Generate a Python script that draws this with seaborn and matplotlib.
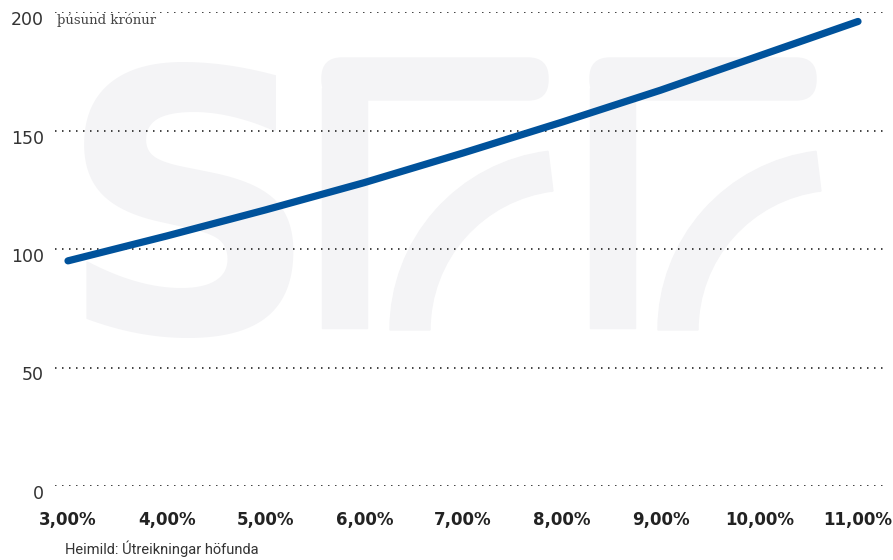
import numpy as np
import pandas as pd
import matplotlib
matplotlib.use("Agg")
import matplotlib.pyplot as plt
import matplotlib.transforms as mtransforms
from matplotlib.patches import Rectangle, FancyBboxPatch, Wedge
import seaborn as sns

# ── Data ──────────────────────────────────────────────────────────────────────
rates = [3, 4, 5, 6, 7, 8, 9, 10, 11]                       # vextir, %
values = [95, 105.5, 116.5, 128, 140.5, 153.5, 167, 181.5, 196]  # þúsund krónur
rate_labels = ["3,00%", "4,00%", "5,00%", "6,00%", "7,00%",
               "8,00%", "9,00%", "10,00%", "11,00%"]
y_ticks = [0, 50, 100, 150, 200]

df = pd.DataFrame({"rate": rates, "value": values})

# ── Style ─────────────────────────────────────────────────────────────────────
sns.set_theme(style="white")
plt.rcParams["font.family"] = ["DejaVu Sans"]

W, H = 893, 560
fig = plt.figure(figsize=(W / 100, H / 100), dpi=100)
fig.patch.set_facecolor("white")

# ── Watermark (light SFF logo), figure pixel coords from top-left ─────────────
WM = "#f4f4f6"
def px(x, y):
    return (x, H - y)

fig.text(58 / W, 1 - 333 / H, "S", fontsize=262, fontweight="bold",
         color=WM, family="DejaVu Sans", ha="left", va="baseline", zorder=0)
for dx in (0, 268):
    # stem
    fig.patches.append(Rectangle(px(322 + dx, 328), 45, 240,
                                 transform=None, color=WM, zorder=0))
    # top bar
    fig.patches.append(FancyBboxPatch(px(322 + dx, 100), 226, 42,
                                      boxstyle="round,pad=0,rounding_size=20",
                                      transform=None, color=WM, zorder=0))
    # inner arc
    fig.patches.append(Wedge(px(570 + dx, 330), 180, 97, 180, width=40,
                             transform=None, color=WM, zorder=0))

# ── Axes ──────────────────────────────────────────────────────────────────────
ax = fig.add_axes([55 / W, (H - 486) / H, 830 / W, (486 - 12) / H])
ax.set_facecolor("none")
ax.set_zorder(1)

sns.lineplot(data=df, x="rate", y="value", ax=ax, color="#00529b",
             linewidth=5.2, solid_capstyle="round", clip_on=False, zorder=3)

ax.set_xlim(3 - 13 / 98.75, 11 + 27 / 98.75)
ax.set_ylim(0, 200)

for v in y_ticks:
    ax.axhline(v, color="#222222", linewidth=1.2, linestyle=(0, (0.9, 3.3)), zorder=1)

for s in ax.spines.values():
    s.set_visible(False)

ax.set_xticks(rates)
ax.set_xticklabels(rate_labels, fontsize=12, fontweight="bold", color="#222222")
ax.set_yticks(y_ticks)
ax.set_yticklabels([str(v) for v in y_ticks], fontsize=12.5, color="#333333",
                   family="DejaVu Sans")
ax.tick_params(axis="x", length=0, pad=18)
ax.tick_params(axis="y", length=0, pad=8)
off = mtransforms.ScaledTranslation(0, -6 / 100, fig.dpi_scale_trans)
for lab in ax.get_yticklabels():
    lab.set_transform(lab.get_transform() + off)
ax.set_xlabel("")
ax.set_ylabel("")

# ── Texts ─────────────────────────────────────────────────────────────────────
fig.text(57 / W, 1 - 20 / H, "þúsund krónur", fontsize=9.5, color="#444444",
         family="DejaVu Serif", ha="left", va="center")
fig.text(65 / W, 1 - 549 / H, "Heimild: Útreikningar höfunda", fontsize=10.5,
         color="#333333", family="Roboto", ha="left", va="center")

fig.savefig("out.png", dpi=100)
